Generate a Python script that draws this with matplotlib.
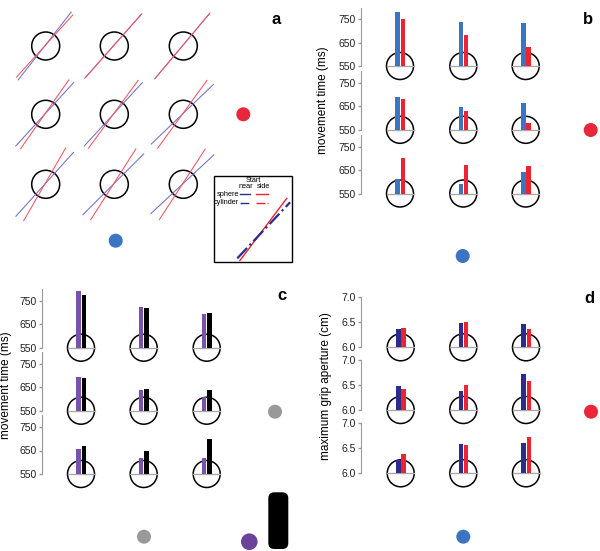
import numpy as np
import matplotlib.pyplot as plt
from matplotlib.patches import Circle, Rectangle, FancyBboxPatch

plt.rcParams['font.family'] = ['Liberation Sans', 'DejaVu Sans']

# panel a: orientation of the fitted lines through each target (degrees)
a_blue_angle = [[52.0, 48.5, 50.0], [47.6, 47.5, 43.8], [48.0, 45.0, 43.0]]
a_red_angle = [[47.8, 48.5, 50.0], [55.0, 53.8, 54.0], [60.0, 57.5, 57.0]]
inset_angle = {'red': 53.0, 'blue': 46.7}

# panel b: movement time (ms), rows top -> bottom, cols left -> right
b_blue = [[783, 740, 736], [689, 649, 664], [614, 591, 641]]
b_red = [[752, 682, 633], [682, 630, 579], [704, 671, 668]]

# panel c: movement time (ms)
c_purple = [[791, 725, 692], [692, 637, 610], [656, 618, 619]]
c_black = [[773, 718, 698], [690, 644, 638], [669, 648, 698]]

# panel d: maximum grip aperture (cm)
d_navy = [[6.37, 6.49, 6.47], [6.48, 6.39, 6.72], [6.27, 6.59, 6.60]]
d_red = [[6.39, 6.51, 6.36], [6.43, 6.50, 6.57], [6.39, 6.57, 6.73]]

mt_ticks = [550, 650, 750]
mga_ticks = [6.0, 6.5, 7.0]

W, H = 600, 551
BLUE = '#3b74c3'
RED = '#ee2330'
NAVY = '#2b2b90'
PURPLE = '#7b52ab'

fig = plt.figure(figsize=(6, 5.51), dpi=100)
ov = fig.add_axes([0, 0, 1, 1])
ov.set_xlim(0, W)
ov.set_ylim(H, 0)
ov.axis('off')


def target(cx, cy, r, line=True):
    ov.add_patch(Circle((cx, cy), r, fill=False, ec='black', lw=1.1))
    if line:
        ov.plot([cx - r, cx + r], [cy, cy], color='#aaaaaa', lw=1)


def dot(cx, cy, r, color):
    ov.add_patch(Circle((cx, cy), r, color=color, lw=0))


def slanted(cx, cy, ang, half, **kw):
    t = np.radians(ang)
    dx, dy = half * np.cos(t), half * np.sin(t)
    ov.plot([cx - dx, cx + dx], [cy + dy, cy - dy], **kw)


# ---- panel a
a_x = [45.7, 114.3, 183.3]
a_y = [46.0, 114.3, 184.3]
for i in range(3):
    for j in range(3):
        target(a_x[j], a_y[i], 14, line=False)
        slanted(a_x[j] - 1, a_y[i], a_blue_angle[i][j], 43, color='#7070c4', lw=0.75)
        slanted(a_x[j] - 1, a_y[i], a_red_angle[i][j], 42, color='#f25562', lw=0.75)
dot(243.3, 114.3, 7, '#e8283a')
dot(115.7, 240.7, 7, BLUE)
ov.text(276, 19, 'a', fontsize=12, fontweight='bold', ha='center', va='center')

# inset legend
ov.add_patch(Rectangle((214.3, 175.7), 77.7, 86.3, fill=False, ec='black', lw=1))
fs = 5.3
ov.text(253, 180, 'Start', fontsize=fs, ha='center', va='center')
ov.text(245.7, 186, 'near', fontsize=fs, ha='center', va='center')
ov.text(263, 186, 'side', fontsize=fs, ha='center', va='center')
ov.text(239.5, 194, 'sphere', fontsize=fs, ha='right', va='center')
ov.text(239.5, 202.5, 'cylinder', fontsize=fs, ha='right', va='center')
ov.plot([240, 250], [194, 194], color=NAVY, lw=1)
ov.plot([256, 268], [194, 194], color=RED, lw=1)
ov.plot([240, 250], [202.5, 202.5], color=NAVY, lw=1, ls='-.')
ov.plot([256, 268], [202.5, 202.5], color=RED, lw=1, ls='-.')
slanted(263.3, 229.5, inset_angle['red'], 39, color=RED, lw=1)
slanted(263.7, 230.3, inset_angle['blue'], 38.5, color=NAVY, lw=1.6, ls='-.')


# ---- bar panels
def bar_panel(spine_x, cols_x, bases, ylim, ppu, left, right, lcol, rcol, ticks, fmt):
    for i in range(3):
        h = (ylim[1] - ylim[0]) * ppu
        ax = fig.add_axes([spine_x / W, (H - bases[i]) / H, 200 / W, h / H])
        ax.set_xlim(spine_x, spine_x + 200)
        ax.set_ylim(ylim)
        ax.set_yticks(ticks)
        ax.set_yticklabels([fmt % t for t in ticks])
        ax.set_xticks([])
        for s in ['top', 'right', 'bottom']:
            ax.spines[s].set_visible(False)
        ax.spines['left'].set_color('#999999')
        ax.tick_params(axis='y', length=2, width=1, color='#999999', pad=2,
                       labelsize=7.5, labelcolor='#222222')
        ax.patch.set_visible(False)
        for j in range(3):
            cx = cols_x[j]
            target(cx, bases[i], 13.5)
            ax.bar(cx - 2.4, left[i][j] - ylim[0], bottom=ylim[0], width=4.4, color=lcol)
            ax.bar(cx + 2.9, right[i][j] - ylim[0], bottom=ylim[0], width=4.4, color=rcol)


# panel b
bar_panel(361, [400, 463.3, 525.7], [66, 129.8, 193.5], (550, 800), 0.2335,
          b_blue, b_red, BLUE, RED, mt_ticks, '%d')
ov.text(322.7, 100, 'movement time (ms)', fontsize=8.5, rotation=90, ha='center', va='center')
dot(590.7, 130, 7, '#e8283a')
dot(462.7, 256, 7, BLUE)
ov.text(588, 19, 'b', fontsize=12, fontweight='bold', ha='center', va='center')

# panel c
bar_panel(42.3, [81, 143.7, 206.7], [347.7, 410.7, 474], (550, 800), 0.235,
          c_purple, c_black, PURPLE, 'black', mt_ticks, '%d')
ov.text(6, 385, 'movement time (ms)', fontsize=8.5, rotation=90, ha='center', va='center')
dot(275, 411.7, 7, '#999999')
dot(144, 536.7, 7, '#999999')
dot(249.3, 541.7, 8.3, '#6c4199')
ov.add_patch(FancyBboxPatch((268.3, 492.3), 20, 56.7, boxstyle='round,pad=0,rounding_size=6',
                            color='black', lw=0))
ov.text(281.7, 296, 'c', fontsize=12, fontweight='bold', ha='center', va='center')

# panel d
bar_panel(361, [400.7, 463.3, 526], [347.3, 410, 473.3], (6.0, 7.0), 50,
          d_navy, d_red, NAVY, RED, mga_ticks, '%.1f')
ov.text(326, 385.8, 'maximum grip aperture (cm)', fontsize=8.5, rotation=90,
        ha='center', va='center')
dot(591, 411.7, 7, '#e8283a')
dot(463.3, 536.7, 7, BLUE)
ov.text(589.3, 298.3, 'd', fontsize=12, fontweight='bold', ha='center', va='center')

fig.savefig('out.png', dpi=100)
